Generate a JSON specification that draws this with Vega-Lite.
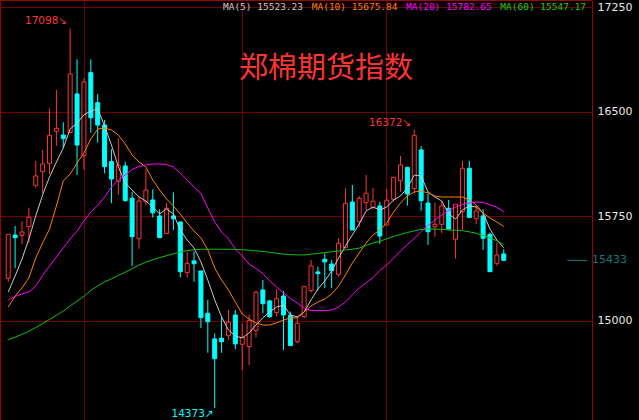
{
 "$schema": "https://vega.github.io/schema/vega-lite/v6.json",
 "width": 592, "height": 420,
 "autosize": {"type": "none"},
 "padding": {"left": 0, "top": 0, "right": 47, "bottom": 0},
 "background": "#000000",
 "config": {"view": {"stroke": "#a00000", "strokeWidth": 1}},
 "data": {"values": [
  {"i":0,"o":15304,"h":15620,"l":15280,"c":15620,"m5":15206,"m10":15098,"m20":15149,"m60":14863},
  {"i":1,"o":15615,"h":15680,"l":15376,"c":15596,"m5":15321,"m10":15177,"m20":15174,"m60":14882},
  {"i":2,"o":15613,"h":15714,"l":15551,"c":15637,"m5":15443,"m10":15235,"m20":15192,"m60":14902},
  {"i":3,"o":15675,"h":15811,"l":15560,"c":15742,"m5":15587,"m10":15307,"m20":15206,"m60":14924},
  {"i":4,"o":15972,"h":16147,"l":15955,"c":16039,"m5":15752,"m10":15450,"m20":15249,"m60":14951},
  {"i":5,"o":16070,"h":16226,"l":15915,"c":16125,"m5":15903,"m10":15558,"m20":15325,"m60":14979},
  {"i":6,"o":16130,"h":16525,"l":16053,"c":16331,"m5":16032,"m10":15658,"m20":15393,"m60":15009},
  {"i":7,"o":16360,"h":16656,"l":16256,"c":16381,"m5":16139,"m10":15824,"m20":15457,"m60":15039},
  {"i":8,"o":16333,"h":16424,"l":16238,"c":16307,"m5":16240,"m10":16003,"m20":15522,"m60":15069},
  {"i":9,"o":16350,"h":17098,"l":16350,"c":16771,"m5":16376,"m10":16053,"m20":15587,"m60":15106},
  {"i":10,"o":16628,"h":16877,"l":16046,"c":16261,"m5":16419,"m10":16132,"m20":15644,"m60":15141},
  {"i":11,"o":16185,"h":16742,"l":16082,"c":16714,"m5":16477,"m10":16204,"m20":15716,"m60":15175},
  {"i":12,"o":16781,"h":16877,"l":16350,"c":16457,"m5":16506,"m10":16305,"m20":15780,"m60":15217},
  {"i":13,"o":16565,"h":16628,"l":16278,"c":16405,"m5":16520,"m10":16376,"m20":15827,"m60":15250},
  {"i":14,"o":16405,"h":16441,"l":16058,"c":16106,"m5":16398,"m10":16383,"m20":15888,"m60":15278},
  {"i":15,"o":16142,"h":16231,"l":15843,"c":16017,"m5":16261,"m10":16369,"m20":15960,"m60":15300},
  {"i":16,"o":16001,"h":16310,"l":15903,"c":16116,"m5":16104,"m10":16333,"m20":16010,"m60":15325},
  {"i":17,"o":16111,"h":16142,"l":15854,"c":15862,"m5":15989,"m10":16269,"m20":16046,"m60":15348},
  {"i":18,"o":15879,"h":15926,"l":15393,"c":15603,"m5":15938,"m10":16190,"m20":16086,"m60":15373},
  {"i":19,"o":15589,"h":15890,"l":15517,"c":15859,"m5":15888,"m10":16139,"m20":16107,"m60":15399},
  {"i":20,"o":15854,"h":16087,"l":15831,"c":15938,"m5":15859,"m10":16104,"m20":16118,"m60":15420},
  {"i":21,"o":15867,"h":15943,"l":15740,"c":15775,"m5":15816,"m10":16010,"m20":16125,"m60":15437},
  {"i":22,"o":15752,"h":15800,"l":15596,"c":15596,"m5":15766,"m10":15938,"m20":16125,"m60":15453},
  {"i":23,"o":15625,"h":15843,"l":15625,"c":15807,"m5":15802,"m10":15874,"m20":16121,"m60":15467},
  {"i":24,"o":15752,"h":15922,"l":15651,"c":15732,"m5":15766,"m10":15824,"m20":16104,"m60":15480},
  {"i":25,"o":15709,"h":15709,"l":15309,"c":15352,"m5":15651,"m10":15766,"m20":16060,"m60":15493},
  {"i":26,"o":15345,"h":15496,"l":15309,"c":15412,"m5":15579,"m10":15702,"m20":16010,"m60":15503},
  {"i":27,"o":15429,"h":15496,"l":15280,"c":15409,"m5":15522,"m10":15644,"m20":15960,"m60":15509},
  {"i":28,"o":15357,"h":15357,"l":14946,"c":15022,"m5":15422,"m10":15594,"m20":15913,"m60":15513},
  {"i":29,"o":15053,"h":15149,"l":14770,"c":14993,"m5":15292,"m10":15508,"m20":15809,"m60":15513},
  {"i":30,"o":14869,"h":14910,"l":14373,"c":14727,"m5":15149,"m10":15378,"m20":15709,"m60":15513},
  {"i":31,"o":14874,"h":15025,"l":14770,"c":14849,"m5":15027,"m10":15292,"m20":15637,"m60":15513},
  {"i":32,"o":14892,"h":15077,"l":14862,"c":14989,"m5":14933,"m10":15221,"m20":15587,"m60":15513},
  {"i":33,"o":15041,"h":15077,"l":14797,"c":14833,"m5":14890,"m10":15134,"m20":15515,"m60":15512},
  {"i":34,"o":14831,"h":14981,"l":14646,"c":14881,"m5":14876,"m10":15048,"m20":15465,"m60":15509},
  {"i":35,"o":14814,"h":15041,"l":14682,"c":15000,"m5":14912,"m10":15012,"m20":15407,"m60":15506},
  {"i":36,"o":14931,"h":15216,"l":14881,"c":15204,"m5":14969,"m10":14984,"m20":15375,"m60":15501},
  {"i":37,"o":15221,"h":15292,"l":15053,"c":15122,"m5":15020,"m10":14969,"m20":15339,"m60":15497},
  {"i":38,"o":15142,"h":15150,"l":15020,"c":15029,"m5":15063,"m10":14969,"m20":15285,"m60":15491},
  {"i":39,"o":15058,"h":15226,"l":15029,"c":15158,"m5":15098,"m10":14984,"m20":15242,"m60":15484},
  {"i":40,"o":15177,"h":15213,"l":14790,"c":15041,"m5":15113,"m10":15005,"m20":15199,"m60":15478},
  {"i":41,"o":15039,"h":15065,"l":14821,"c":14821,"m5":15041,"m10":15020,"m20":15160,"m60":15475},
  {"i":42,"o":14849,"h":15029,"l":14838,"c":14981,"m5":15027,"m10":15020,"m20":15127,"m60":15472},
  {"i":43,"o":15029,"h":15251,"l":15017,"c":15244,"m5":15063,"m10":15063,"m20":15091,"m60":15472},
  {"i":44,"o":15216,"h":15436,"l":15201,"c":15393,"m5":15149,"m10":15106,"m20":15073,"m60":15478},
  {"i":45,"o":15350,"h":15388,"l":15216,"c":15338,"m5":15228,"m10":15134,"m20":15072,"m60":15483},
  {"i":46,"o":15441,"h":15484,"l":15233,"c":15422,"m5":15285,"m10":15156,"m20":15072,"m60":15489},
  {"i":47,"o":15407,"h":15436,"l":15233,"c":15359,"m5":15357,"m10":15192,"m20":15077,"m60":15495},
  {"i":48,"o":15333,"h":15592,"l":15316,"c":15556,"m5":15450,"m10":15249,"m20":15098,"m60":15500},
  {"i":49,"o":15524,"h":15951,"l":15524,"c":15843,"m5":15536,"m10":15328,"m20":15134,"m60":15508},
  {"i":50,"o":15852,"h":15974,"l":15651,"c":15651,"m5":15615,"m10":15414,"m20":15185,"m60":15513},
  {"i":51,"o":15711,"h":15895,"l":15671,"c":15879,"m5":15694,"m10":15486,"m20":15235,"m60":15521},
  {"i":52,"o":15847,"h":16046,"l":15795,"c":15915,"m5":15788,"m10":15558,"m20":15271,"m60":15540},
  {"i":53,"o":15814,"h":15953,"l":15800,"c":15857,"m5":15816,"m10":15615,"m20":15310,"m60":15558},
  {"i":54,"o":15824,"h":15854,"l":15551,"c":15608,"m5":15795,"m10":15651,"m20":15360,"m60":15570},
  {"i":55,"o":15687,"h":15946,"l":15687,"c":15865,"m5":15816,"m10":15702,"m20":15400,"m60":15588},
  {"i":56,"o":15872,"h":16030,"l":15854,"c":16030,"m5":15867,"m10":15780,"m20":15450,"m60":15605},
  {"i":57,"o":16005,"h":16183,"l":15926,"c":16118,"m5":15895,"m10":15845,"m20":15500,"m60":15619},
  {"i":58,"o":16101,"h":16101,"l":15826,"c":15910,"m5":15953,"m10":15895,"m20":15547,"m60":15633},
  {"i":59,"o":15948,"h":16372,"l":15915,"c":16331,"m5":16046,"m10":15924,"m20":15590,"m60":15645},
  {"i":60,"o":16226,"h":16254,"l":15790,"c":15862,"m5":16039,"m10":15931,"m20":15640,"m60":15655},
  {"i":61,"o":15845,"h":15910,"l":15544,"c":15639,"m5":15924,"m10":15917,"m20":15683,"m60":15658},
  {"i":62,"o":15675,"h":15847,"l":15603,"c":15692,"m5":15888,"m10":15895,"m20":15723,"m60":15658},
  {"i":63,"o":15692,"h":15854,"l":15628,"c":15824,"m5":15859,"m10":15888,"m20":15759,"m60":15656},
  {"i":64,"o":15807,"h":15867,"l":15658,"c":15658,"m5":15766,"m10":15888,"m20":15791,"m60":15652},
  {"i":65,"o":15585,"h":15836,"l":15445,"c":15836,"m5":15730,"m10":15888,"m20":15816,"m60":15649},
  {"i":66,"o":15783,"h":16147,"l":15651,"c":16094,"m5":15795,"m10":15888,"m20":15834,"m60":15646},
  {"i":67,"o":16094,"h":16147,"l":15740,"c":15740,"m5":15824,"m10":15867,"m20":15845,"m60":15638},
  {"i":68,"o":15732,"h":15831,"l":15692,"c":15788,"m5":15816,"m10":15831,"m20":15852,"m60":15628},
  {"i":69,"o":15752,"h":15800,"l":15508,"c":15592,"m5":15773,"m10":15773,"m20":15849,"m60":15612},
  {"i":70,"o":15620,"h":15632,"l":15352,"c":15352,"m5":15658,"m10":15737,"m20":15831,"m60":15594},
  {"i":71,"o":15412,"h":15560,"l":15395,"c":15472,"m5":15579,"m10":15709,"m20":15813,"m60":15574},
  {"i":72,"o":15479,"h":15513,"l":15433,"c":15433,"m5":15523.23,"m10":15675.84,"m20":15782.65,"m60":15547.17}
 ]},
 "layer": [
  {
   "mark": {"type": "rule", "strokeWidth": 1},
   "encoding": {
    "x": {"field": "i", "type": "quantitative",
          "scale": {"domain": [-0.47, 84.1], "nice": false, "zero": false},
          "axis": {"values": [10.95, 33.95, 54.95], "grid": true, "gridColor": "#700000", "gridOpacity": 1, "labels": false, "ticks": false, "domain": false, "title": null}},
    "y": {"field": "h", "type": "quantitative",
          "scale": {"domain": [14287, 17302.4], "nice": false, "zero": false},
          "axis": {"orient": "right", "values": [15000, 15750, 16500, 17250], "grid": true, "gridColor": "#700000", "gridOpacity": 1, "ticks": false, "domain": false, "labelColor": "#e8e8e8", "labelFont": "DejaVu Sans", "labelFontSize": 11, "labelPadding": 5, "labelBaseline": "middle", "title": null, "format": "d"}},
    "y2": {"field": "l"},
    "color": {"condition": {"test": "datum.c >= datum.o", "value": "#ff3434"}, "value": "#00ffff"}
   }
  },
  {
   "mark": {"type": "bar", "size": 4, "strokeWidth": 1},
   "encoding": {
    "x": {"field": "i", "type": "quantitative"},
    "y": {"field": "o", "type": "quantitative"},
    "y2": {"field": "c"},
    "fill": {"condition": {"test": "datum.c >= datum.o", "value": "#000000"}, "value": "#00ffff"},
    "stroke": {"condition": {"test": "datum.c >= datum.o", "value": "#ff3434"}, "value": "#00ffff"}
   }
  },
  {"mark": {"type": "line", "strokeWidth": 1, "color": "#c8c8c8"},
   "encoding": {"x": {"field": "i", "type": "quantitative"}, "y": {"field": "m5", "type": "quantitative"}}},
  {"mark": {"type": "line", "strokeWidth": 1, "color": "#ff8000"},
   "encoding": {"x": {"field": "i", "type": "quantitative"}, "y": {"field": "m10", "type": "quantitative"}}},
  {"mark": {"type": "line", "strokeWidth": 1, "color": "#ff00ff"},
   "encoding": {"x": {"field": "i", "type": "quantitative"}, "y": {"field": "m20", "type": "quantitative"}}},
  {"mark": {"type": "line", "strokeWidth": 1, "color": "#10c010"},
   "encoding": {"x": {"field": "i", "type": "quantitative"}, "y": {"field": "m60", "type": "quantitative"}}},
  {
   "transform": [{"filter": "datum.i == 9"}],
   "mark": {"type": "text", "font": "DejaVu Sans", "fontSize": 10.5, "color": "#ff3434", "align": "right", "baseline": "bottom", "dx": -3, "dy": -2},
   "encoding": {"x": {"field": "i", "type": "quantitative"}, "y": {"field": "h", "type": "quantitative"}, "text": {"value": "17098↘"}}
  },
  {
   "transform": [{"filter": "datum.i == 59"}],
   "mark": {"type": "text", "font": "DejaVu Sans", "fontSize": 10.5, "color": "#ff3434", "align": "right", "baseline": "bottom", "dx": -3, "dy": -2},
   "encoding": {"x": {"field": "i", "type": "quantitative"}, "y": {"field": "h", "type": "quantitative"}, "text": {"value": "16372↘"}}
  },
  {
   "transform": [{"filter": "datum.i == 30"}],
   "mark": {"type": "text", "font": "DejaVu Sans", "fontSize": 10.5, "color": "#00ffff", "align": "right", "baseline": "top", "dx": -1, "dy": 1},
   "encoding": {"x": {"field": "i", "type": "quantitative"}, "y": {"field": "l", "type": "quantitative"}, "text": {"value": "14373↗"}}
  },
  {
   "transform": [{"filter": "datum.i == 72"}],
   "mark": {"type": "rule", "strokeWidth": 1, "color": "#0e7c7c"},
   "encoding": {"x": {"datum": 81.24}, "x2": {"datum": 84.1}, "y": {"field": "c", "type": "quantitative"}}
  },
  {
   "transform": [{"filter": "datum.i == 72"}],
   "mark": {"type": "text", "font": "DejaVu Sans", "fontSize": 11, "color": "#0e7c7c", "align": "left", "baseline": "middle", "dx": 5},
   "encoding": {"x": {"datum": 84.1}, "y": {"field": "c", "type": "quantitative"}, "text": {"field": "c", "format": "d"}}
  },
  {
   "data": {"values": [{"t": "MA(5) 15523.23"}]},
   "mark": {"type": "text", "font": "DejaVu Sans Mono", "fontSize": 9.5, "color": "#c8c8c8", "align": "left", "baseline": "middle"},
   "encoding": {"x": {"datum": 31.2}, "y": {"datum": 17250}, "text": {"field": "t"}}
  },
  {
   "data": {"values": [{"t": "MA(10) 15675.84"}]},
   "mark": {"type": "text", "font": "DejaVu Sans Mono", "fontSize": 9.5, "color": "#ff8000", "align": "left", "baseline": "middle"},
   "encoding": {"x": {"datum": 44.1}, "y": {"datum": 17250}, "text": {"field": "t"}}
  },
  {
   "data": {"values": [{"t": "MA(20) 15782.65"}]},
   "mark": {"type": "text", "font": "DejaVu Sans Mono", "fontSize": 9.5, "color": "#ff00ff", "align": "left", "baseline": "middle"},
   "encoding": {"x": {"datum": 57.8}, "y": {"datum": 17250}, "text": {"field": "t"}}
  },
  {
   "data": {"values": [{"t": "MA(60) 15547.17"}]},
   "mark": {"type": "text", "font": "DejaVu Sans Mono", "fontSize": 9.5, "color": "#10d010", "align": "left", "baseline": "middle"},
   "encoding": {"x": {"datum": 71.5}, "y": {"datum": 17250}, "text": {"field": "t"}}
  },
  {
   "data": {"values": [{"t": "郑棉期货指数"}]},
   "mark": {"type": "text", "font": "Noto Sans CJK SC", "fontSize": 29, "color": "#ff3333", "align": "center", "baseline": "middle"},
   "encoding": {"x": {"datum": 46.17}, "y": {"datum": 16807}, "text": {"field": "t"}}
  }
 ]
}
